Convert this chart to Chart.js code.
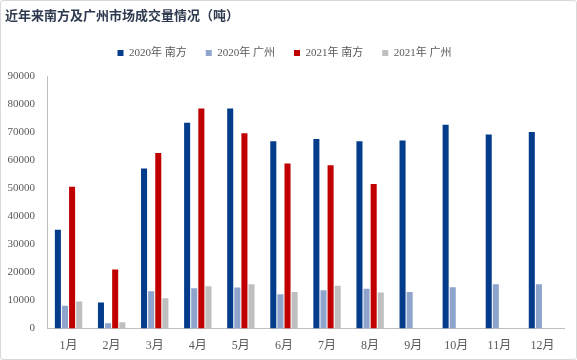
<!DOCTYPE html>
<html>
<head>
<meta charset="utf-8">
<script src="https://cdn.jsdelivr.net/npm/chart.js@4"></script>
<style>
  html, body { margin: 0; padding: 0; background: #fff; }
  #wrap { position: relative; width: 575px; height: 358px; border: 1px solid #d9d9d9; border-radius: 3px; }
</style>
</head>
<body>
<div id="wrap"><canvas id="marketChart"></canvas></div>
<script>
const months = ['1月', '2月', '3月', '4月', '5月', '6月', '7月', '8月', '9月', '10月', '11月', '12月'];
const south2020 = [35300, 9300, 57200, 73500, 78600, 66900, 67700, 66900, 67200, 72800, 69300, 70200];
const gz2020 = [8200, 1900, 13300, 14400, 14700, 12300, 13700, 14200, 13100, 14800, 15800, 15800];
const south2021 = [50700, 21100, 62700, 78600, 69800, 59000, 58300, 51600, null, null, null, null];
const gz2021 = [9700, 2300, 10800, 15100, 15800, 13100, 15300, 12900, null, null, null, null];

const tickColor = '#595959';
const axisColor = '#bfbfbf';
const serif = "'Liberation Serif', 'Noto Sans CJK SC', serif";

// extra room under the legend, like the original
const legendGap = {
  id: 'legendGap',
  beforeInit(chart) {
    const fit = chart.legend.fit;
    chart.legend.fit = function () {
      fit.bind(chart.legend)();
      this.height += 8;
    };
  }
};

function initChart() {
  const ctx = document.getElementById('marketChart');

  const series = [
    { label: '2020年 南方', data: south2020, color: '#043c8c' },
    { label: '2020年 广州', data: gz2020, color: '#8ea4cc' },
    { label: '2021年 南方', data: south2021, color: '#c00000' },
    { label: '2021年 广州', data: gz2021, color: '#bfbfbf' }
  ];

  new Chart(ctx, {
    type: 'bar',
    data: {
      labels: months,
      datasets: series.map(s => ({
        label: s.label,
        data: s.data,
        backgroundColor: s.color,
        borderWidth: 0,
        categoryPercentage: 0.66,
        barPercentage: 0.85
      }))
    },
    options: {
      responsive: true,
      maintainAspectRatio: false,
      animation: false,
      layout: { padding: { left: 4, right: 12, top: 6, bottom: 4 } },
      scales: {
        x: {
          grid: { display: false },
          border: { color: axisColor },
          ticks: { color: tickColor, font: { family: serif, size: 12 }, padding: 2 }
        },
        y: {
          min: 0,
          max: 90000,
          afterFit: scale => { scale.width = 42; },
          ticks: {
            stepSize: 10000,
            color: tickColor,
            font: { family: serif, size: 11 },
            padding: 4,
            callback: v => String(v)
          },
          grid: { display: false },
          border: { color: axisColor }
        }
      },
      plugins: {
        title: {
          display: true,
          text: '近年来南方及广州市场成交量情况（吨）',
          align: 'start',
          color: '#2e3a4f',
          font: { family: "'Noto Sans CJK SC', sans-serif", size: 13, weight: 'bold' },
          padding: { top: 0, bottom: 6 }
        },
        legend: {
          position: 'top',
          labels: {
            color: tickColor,
            boxWidth: 6,
            boxHeight: 6,
            padding: 19,
            font: { family: serif, size: 11 }
          }
        },
        tooltip: { enabled: false }
      }
    },
    plugins: [legendGap]
  });
}

initChart();
</script>
</body>
</html>
